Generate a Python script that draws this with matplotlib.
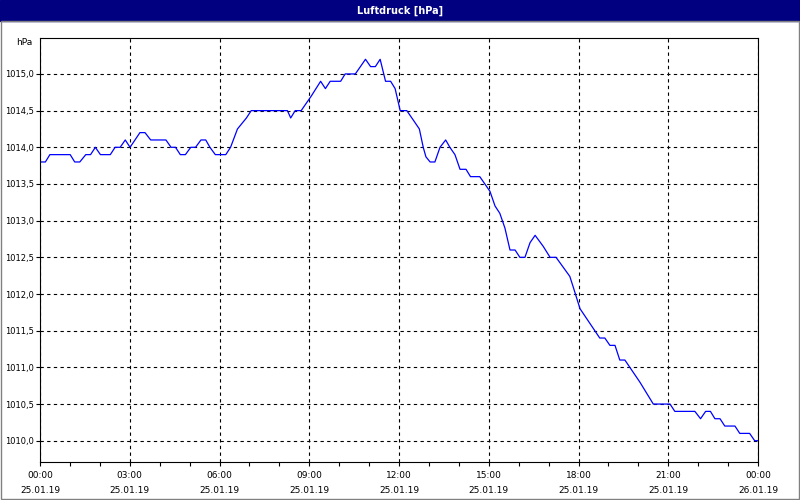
import matplotlib
matplotlib.use("Agg")
import matplotlib.pyplot as plt
from matplotlib.patches import Rectangle

hours = [0.0,0.18,0.33,1.01,1.16,1.33,1.53,1.69,1.85,2.02,2.35,2.51,2.68,2.85,3.01,3.34,3.51,3.70,4.21,4.38,4.53,4.69,4.86,5.04,5.20,5.38,5.54,5.68,5.86,6.21,6.37,6.60,6.90,7.06,8.27,8.38,8.53,8.73,9.07,9.38,9.54,9.70,10.05,10.2,10.54,10.88,11.05,11.21,11.37,11.55,11.72,11.87,12.04,12.26,12.48,12.68,12.81,12.90,13.04,13.20,13.37,13.56,13.70,13.87,14.04,14.24,14.39,14.70,14.87,15.04,15.21,15.37,15.54,15.71,15.88,16.04,16.21,16.38,16.55,16.82,17.05,17.25,17.71,17.82,18.05,18.38,18.71,18.88,19.05,19.22,19.38,19.55,20.05,20.50,21.06,21.22,21.89,22.08,22.25,22.41,22.56,22.73,22.89,23.23,23.39,23.72,23.89,24.0]
pressure = [1013.8,1013.8,1013.9,1013.9,1013.8,1013.8,1013.9,1013.9,1014.0,1013.9,1013.9,1014.0,1014.0,1014.1,1014.0,1014.2,1014.2,1014.1,1014.1,1014.0,1014.0,1013.9,1013.9,1014.0,1014.0,1014.1,1014.1,1014.0,1013.9,1013.9,1014.0,1014.25,1014.4,1014.5,1014.5,1014.4,1014.5,1014.5,1014.7,1014.9,1014.8,1014.9,1014.9,1015.0,1015.0,1015.2,1015.1,1015.1,1015.2,1014.9,1014.9,1014.8,1014.5,1014.5,1014.37,1014.25,1014.0,1013.87,1013.8,1013.8,1014.0,1014.1,1014.0,1013.9,1013.7,1013.7,1013.6,1013.6,1013.5,1013.4,1013.2,1013.1,1012.9,1012.6,1012.6,1012.5,1012.5,1012.7,1012.8,1012.65,1012.5,1012.5,1012.24,1012.1,1011.8,1011.6,1011.4,1011.4,1011.3,1011.3,1011.1,1011.1,1010.8,1010.5,1010.5,1010.4,1010.4,1010.3,1010.4,1010.4,1010.3,1010.3,1010.2,1010.2,1010.1,1010.1,1010.0,1010.0]
xtick_labels = ["00:00\n25.01.19","03:00\n25.01.19","06:00\n25.01.19","09:00\n25.01.19","12:00\n25.01.19",
                "15:00\n25.01.19","18:00\n25.01.19","21:00\n25.01.19","00:00\n26.01.19"]
yticks = [1010.0,1010.5,1011.0,1011.5,1012.0,1012.5,1013.0,1013.5,1014.0,1014.5,1015.0]

plt.rcParams['font.family'] = ['DejaVu Sans']
fig = plt.figure(figsize=(8, 5), dpi=100, facecolor='white')
fig.patches.append(Rectangle((0, 0.958), 1, 0.042, transform=fig.transFigure, color='#000080', zorder=0))
fig.text(0.5, 0.979, "Luftdruck [hPa]", color='white', fontsize=7, fontweight='bold', ha='center', va='center')
fig.patches.append(Rectangle((0.001, 0.002), 0.998, 0.956, transform=fig.transFigure, fill=False, ec='#808080', lw=1))

ax = fig.add_axes([0.05, 0.076, 0.8975, 0.848])
ax.plot(hours, pressure, color='#0000ff', lw=0.9)
ax.set_xlim(0, 24)
ax.set_ylim(1009.71, 1015.49)
ax.set_xticks(range(0, 25, 3))
ax.set_xticklabels(xtick_labels, fontsize=6.5, linespacing=1.9)
ax.set_xticks(range(0, 25), minor=True)
ax.set_yticks(yticks)
ax.set_yticklabels([f"{v:.1f}".replace('.', ',') for v in yticks], fontsize=6)
ax.tick_params(which='both', direction='out', length=3, width=0.8, color='black')
ax.tick_params(axis='y', pad=1.5)
ax.grid(True, which='major', color='black', linestyle=(0, (3, 3)), lw=0.8)
for s in ax.spines.values():
    s.set_color('black'); s.set_linewidth(0.8)
ax.text(-0.01, 1.0, "hPa", transform=ax.transAxes, fontsize=6.5, ha='right', va='top')
fig.savefig("out.png", dpi=100, facecolor=fig.get_facecolor())
